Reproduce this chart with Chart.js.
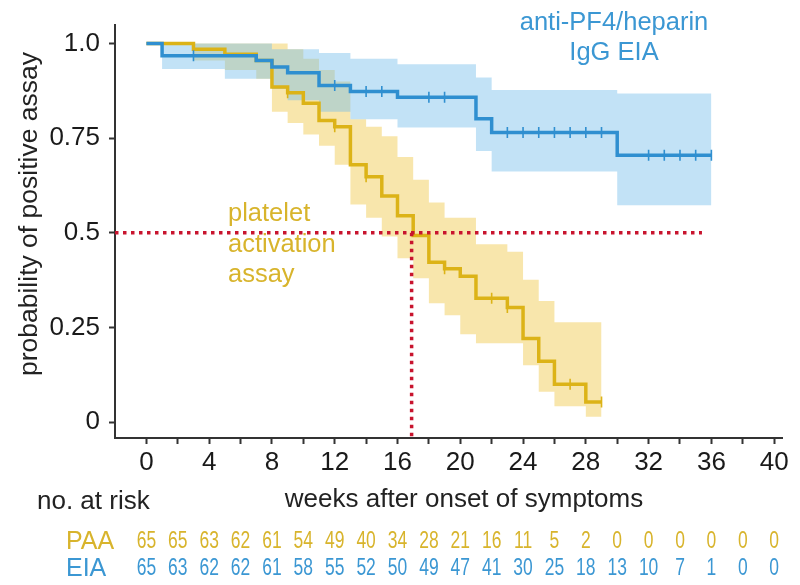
<!DOCTYPE html>
<html>
<head>
<meta charset="utf-8">
<script src="https://cdn.jsdelivr.net/npm/chart.js@4.4.1/dist/chart.umd.min.js"></script>
<style>
  html, body { margin: 0; padding: 0; background: #fff; }
  #wrap { width: 800px; height: 585px; position: relative; }
</style>
</head>
<body>
<div id="wrap"><canvas id="km"></canvas></div>
<script>
// ==================
//  DATA
// ==================
// platelet activation assay (PAA)
const paaTimes = [0, 3, 5, 7, 8, 9, 10, 11, 12, 13, 14, 15, 16, 17, 18, 19, 20, 21, 23, 24, 25, 26, 28, 29];
const paaSurv  = [1.0, 0.985, 0.972, 0.955, 0.885, 0.87, 0.842, 0.797, 0.78, 0.68, 0.648, 0.597, 0.545, 0.493, 0.422, 0.405, 0.385, 0.327, 0.303, 0.221, 0.161, 0.100, 0.053, 0.053];
const paaCensor = [9, 12, 14, 19, 22, 23, 27, 29];
const paaBandTimes = [0, 3, 5, 7, 8, 9, 10, 11, 12, 13, 14, 15, 16, 17, 18, 19, 20, 21, 23, 24, 25, 26, 28, 29];
const paaUpper = [1.0, 1.0, 1.0, 1.0, 1.0, 0.985, 0.96, 0.93, 0.90, 0.80, 0.78, 0.755, 0.70, 0.64, 0.58, 0.54, 0.54, 0.47, 0.45, 0.376, 0.32, 0.264, 0.264, 0.264];
const paaLower = [1.0, 0.955, 0.93, 0.907, 0.82, 0.79, 0.76, 0.73, 0.68, 0.575, 0.54, 0.49, 0.433, 0.38, 0.314, 0.282, 0.232, 0.208, 0.208, 0.15, 0.08, 0.042, 0.014, 0.014];

// anti-PF4/heparin IgG EIA
const eiaTimes = [0, 1, 7, 8, 9, 11, 13, 16, 21, 22, 30, 36];
const eiaSurv  = [1.0, 0.968, 0.955, 0.938, 0.923, 0.889, 0.873, 0.858, 0.801, 0.765, 0.705, 0.705];
const eiaCensor = [3, 12, 14, 15, 18, 19, 23, 24, 25, 26, 27, 28, 29, 32, 33, 34, 35, 36];
const eiaBandTimes = [0, 1, 5, 8, 9, 11, 13, 16, 21, 22, 30, 36];
const eiaUpper = [1.0, 1.0, 1.0, 0.985, 0.985, 0.975, 0.96, 0.945, 0.91, 0.877, 0.868, 0.868];
const eiaLower = [1.0, 0.933, 0.907, 0.88, 0.85, 0.82, 0.80, 0.778, 0.716, 0.662, 0.573, 0.573];

// median marker (red dotted lines)
const medianWeek = 16.9;
const medianProb = 0.5;
const medianLineEnd = 35.4;

// axes
const xTickWeeks = [0, 2, 4, 6, 8, 10, 12, 14, 16, 18, 20, 22, 24, 26, 28, 30, 32, 34, 36, 38, 40];
const yTickValues = [0, 0.25, 0.5, 0.75, 1.0];

// number at risk, every 2 weeks
const riskWeeks = [0, 2, 4, 6, 8, 10, 12, 14, 16, 18, 20, 22, 24, 26, 28, 30, 32, 34, 36, 38, 40];
const paaAtRisk = [65, 65, 63, 62, 61, 54, 49, 40, 34, 28, 21, 16, 11, 5, 2, 0, 0, 0, 0, 0, 0];
const eiaAtRisk = [65, 63, 62, 62, 61, 58, 55, 52, 50, 49, 47, 41, 30, 25, 18, 13, 10, 7, 1, 0, 0];

// ==================
//  HELPERS
// ==================
const FONT = "'Liberation Sans', Arial, sans-serif";
const GOLD = "#dcb317";
const GOLD_TEXT = "#d8b42c";
const BLUE = "#2f8fd0";
const BLUE_TEXT = "#3b97d3";
const RED = "#c8142e";
const AXIS = "#333333";

const pts = (xs, ys) => xs.map((x, i) => ({ x, y: ys[i] }));

// value of a step curve at time t
function survAt(times, surv, t) {
  let v = surv[0];
  for (let i = 0; i < times.length; i++) {
    if (times[i] <= t) v = surv[i];
  }
  return v;
}

const censorPts = (cens, times, surv) => cens.map((t) => ({ x: t, y: survAt(times, surv, t) }));

// narrow text: squeeze horizontally around its centre
function narrowText(ctx, str, x, y, squeeze) {
  ctx.save();
  ctx.translate(x, y);
  ctx.scale(squeeze, 1);
  ctx.fillText(str, 0, 0);
  ctx.restore();
}

// ==================
//  TEXT PLUGIN
// ==================
const textPlugin = {
  id: "kmText",
  afterDraw(chart) {
    const { ctx } = chart;
    const xs = chart.scales.x;
    ctx.save();

    // y axis title
    ctx.save();
    ctx.translate(30, 214);
    ctx.rotate(-Math.PI / 2);
    ctx.font = `26.5px ${FONT}`;
    ctx.fillStyle = "#222";
    ctx.textAlign = "center";
    ctx.textBaseline = "middle";
    ctx.fillText("probability of positive assay", 0, 0);
    ctx.restore();

    // curve labels
    ctx.font = `25.5px ${FONT}`;
    ctx.textBaseline = "middle";
    ctx.textAlign = "center";
    ctx.fillStyle = BLUE_TEXT;
    ctx.fillText("anti-PF4/heparin", 614, 23);
    ctx.fillText("IgG EIA", 614, 53);
    ctx.textAlign = "left";
    ctx.fillStyle = GOLD_TEXT;
    ctx.fillText("platelet", 228, 214);
    ctx.fillText("activation", 228, 245);
    ctx.fillText("assay", 228, 275);

    // x axis title and at-risk table
    ctx.font = `26px ${FONT}`;
    ctx.fillStyle = "#222";
    ctx.textAlign = "center";
    ctx.fillText("weeks after onset of symptoms", 464, 500);
    ctx.textAlign = "left";
    ctx.fillText("no. at risk", 37, 502);

    ctx.font = `25px ${FONT}`;
    ctx.fillStyle = GOLD_TEXT;
    ctx.fillText("PAA", 66, 542);
    ctx.fillStyle = BLUE_TEXT;
    ctx.fillText("EIA", 66, 569);

    ctx.font = `23px ${FONT}`;
    ctx.textAlign = "center";
    riskWeeks.forEach((w, i) => {
      const px = xs.getPixelForValue(w);
      ctx.fillStyle = GOLD_TEXT;
      narrowText(ctx, String(paaAtRisk[i]), px, 542, 0.76);
      ctx.fillStyle = BLUE_TEXT;
      narrowText(ctx, String(eiaAtRisk[i]), px, 569, 0.76);
    });
    ctx.restore();
  }
};

// ==================
//  CHART
// ==================
const stepLine = (data, color, order) => ({
  data,
  stepped: true,
  borderColor: color,
  borderWidth: 3.5,
  pointRadius: 0,
  fill: false,
  order
});

const bandEdge = (data, fill, bg, order) => ({
  data,
  stepped: true,
  borderWidth: 0,
  borderColor: "rgba(0,0,0,0)",
  backgroundColor: bg,
  pointRadius: 0,
  fill,
  order
});

const censorSet = (data, color) => ({
  data,
  showLine: false,
  pointStyle: "line",
  rotation: 90,
  pointRadius: 5.5,
  pointBorderWidth: 1.6,
  pointBorderColor: color,
  borderColor: color,
  order: 1
});

const dotted = (data) => ({
  data,
  borderColor: RED,
  borderWidth: 3.5,
  borderDash: [3.5, 4.5],
  pointRadius: 0,
  fill: false,
  order: 0
});

new Chart(document.getElementById("km"), {
  type: "line",
  data: {
    datasets: [
      bandEdge(pts(paaBandTimes, paaUpper), false, "rgba(240,200,70,0.45)", 10),
      bandEdge(pts(paaBandTimes, paaLower), "-1", "rgba(240,200,70,0.45)", 10),
      bandEdge(pts(eiaBandTimes, eiaUpper), false, "rgba(120,190,235,0.45)", 9),
      bandEdge(pts(eiaBandTimes, eiaLower), "-1", "rgba(120,190,235,0.45)", 9),
      stepLine(pts(paaTimes, paaSurv), GOLD, 4),
      stepLine(pts(eiaTimes, eiaSurv), BLUE, 3),
      censorSet(censorPts(paaCensor, paaTimes, paaSurv), GOLD),
      censorSet(censorPts(eiaCensor, eiaTimes, eiaSurv), BLUE),
      dotted([{ x: -2, y: medianProb }, { x: medianLineEnd, y: medianProb }]),
      dotted([{ x: medianWeek, y: medianProb }, { x: medianWeek, y: -0.042 }])
    ]
  },
  options: {
    responsive: true,
    maintainAspectRatio: false,
    animation: false,
    layout: { padding: { left: 0, top: 17, right: 18, bottom: 0 } },
    plugins: {
      legend: { display: false },
      tooltip: { enabled: false }
    },
    scales: {
      x: {
        type: "linear",
        min: -2,
        max: 40.5,
        afterBuildTicks: (s) => { s.ticks = xTickWeeks.map((v) => ({ value: v })); },
        afterFit: (s) => { s.height = 147; },
        ticks: {
          autoSkip: false,
          maxRotation: 0,
          padding: 3,
          color: "#1a1a1a",
          font: { family: FONT, size: 26 },
          callback: (v) => (v % 4 === 0 ? String(v) : "")
        },
        grid: { drawOnChartArea: false, drawTicks: true, tickLength: 6, tickWidth: 2, tickColor: AXIS },
        border: { display: true, color: AXIS, width: 2 }
      },
      y: {
        type: "linear",
        min: -0.042,
        max: 1.05,
        afterBuildTicks: (s) => { s.ticks = yTickValues.map((v) => ({ value: v })); },
        afterFit: (s) => { s.width = 115; },
        ticks: {
          padding: 9,
          color: "#1a1a1a",
          font: { family: FONT, size: 26 },
          callback: (v) => (v === 0 ? "0" : v === 1 ? "1.0" : String(v))
        },
        grid: { drawOnChartArea: false, drawTicks: true, tickLength: 6, tickWidth: 2, tickColor: AXIS },
        border: { display: true, color: AXIS, width: 2 }
      }
    }
  },
  plugins: [textPlugin]
});
</script>
</body>
</html>
